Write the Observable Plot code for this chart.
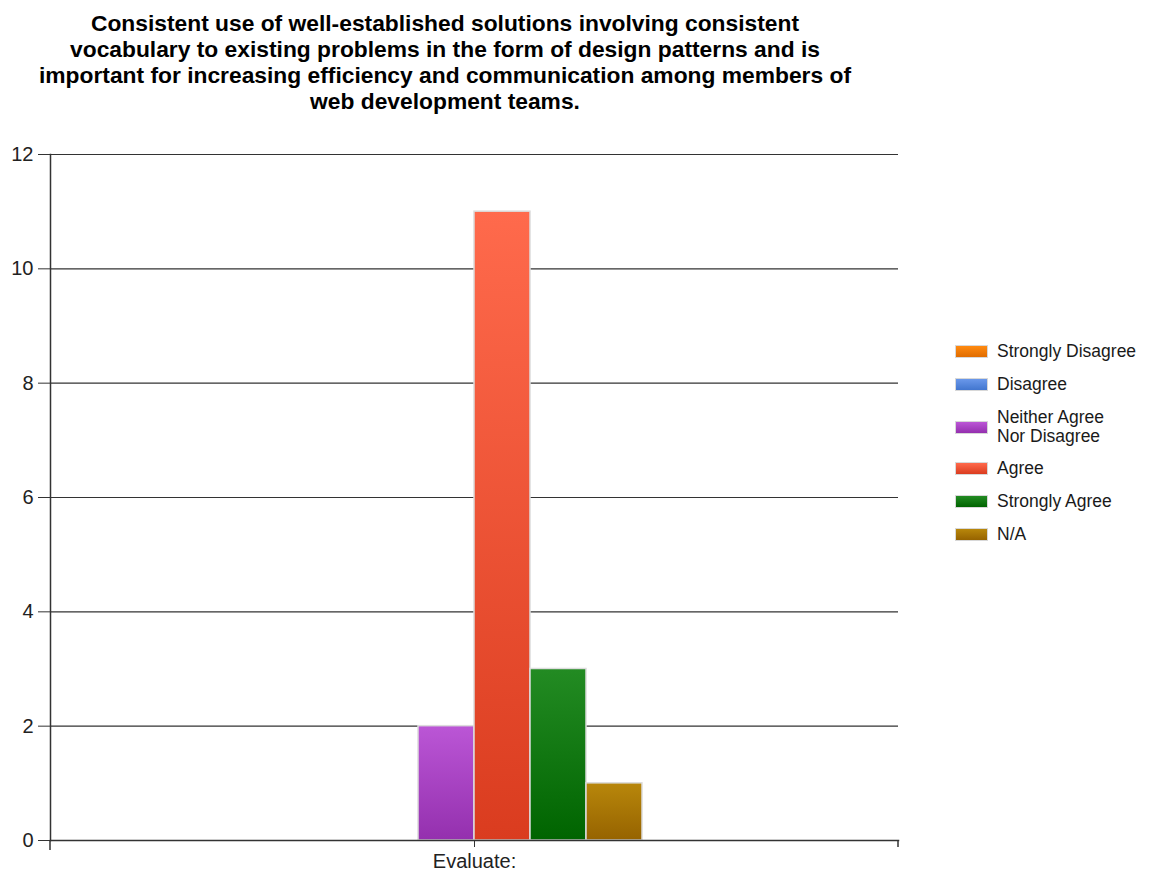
<!DOCTYPE html>
<html>
<head>
<meta charset="utf-8">
<script src="https://cdn.jsdelivr.net/npm/d3@7"></script>
<script src="https://cdn.jsdelivr.net/npm/@observablehq/plot@0.6"></script>
<style>
  html, body { margin: 0; padding: 0; background: #fff; }
  #wrap { position: relative; width: 1150px; height: 874px; font-family: "Liberation Sans", Arial, sans-serif; }
  #title { position: absolute; left: 0; top: 10px; width: 890px; text-align: center; font-weight: bold; font-size: 22.8px; line-height: 26px; color: #000; }
  #chart { position: absolute; left: 0; top: 130px; }
  #legend { position: absolute; left: 955px; top: 342px; font-size: 17.5px; color: #1a1a1a; }
  .item { position: absolute; left: 0; display: flex; align-items: center; white-space: nowrap; }
  .sw { width: 31px; height: 11px; border: 1px solid #d8d8d8; margin-right: 9px; flex: none; }
  .lbl { line-height: 19px; }
</style>
</head>
<body>
<div id="wrap">
  <div id="title">Consistent use of well-established solutions involving consistent<br>vocabulary to existing problems in the form of design patterns and is<br>important for increasing efficiency and communication among members of<br>web development teams.</div>
  <div id="chart"></div>
  <div id="legend"></div>
</div>
<script>
// Response categories, their counts, and colours (top / bottom of each bar's gradient)
const series = ["Strongly Disagree", "Disagree", "Neither Agree Nor Disagree", "Agree", "Strongly Agree", "N/A"];
const legendLabels = ["Strongly Disagree", "Disagree", "Neither Agree<br>Nor Disagree", "Agree", "Strongly Agree", "N/A"];
const counts = [0, 0, 2, 11, 3, 1];
const colorTop = ["#ff8a10", "#6a98ea", "#bb56d6", "#ff6a4c", "#238b23", "#b8870b"];
const colorBottom = ["#e06c00", "#4276cf", "#9430ae", "#da3c1f", "#006400", "#966300"];
const group = "Evaluate:";
const yTicks = [0, 2, 4, 6, 8, 10, 12];

const data = series.map((s, i) => ({series: s, value: counts[i], group, idx: i}));

const W = 1150, H = 744;

// Short ticks under the bottom axis at both edges of the plot frame
const endTicks = (index, scales, values, dim) => {
  const g = d3.create("svg:g");
  const y0 = dim.height - dim.marginBottom;
  [[dim.marginLeft, 10], [dim.width - dim.marginRight, 7]].forEach(([x, len]) => {
    g.append("line").attr("x1", x).attr("x2", x).attr("y1", y0).attr("y2", y0 + len)
      .attr("stroke", "#333").attr("stroke-width", 1.5);
  });
  return g.node();
};

const chart = Plot.plot({
  width: W,
  height: H,
  marginLeft: 50,
  marginRight: 252,
  marginTop: 24,
  marginBottom: 34,
  style: {fontFamily: "'Liberation Sans', Arial, sans-serif", fontSize: "20px", color: "#222", background: "#fff"},
  fx: {domain: [group], padding: 0, label: null},
  x: {domain: series, paddingInner: 0, paddingOuter: 4.53, axis: null},
  y: {domain: [0, 12], label: null},
  marks: [
    Plot.gridY(yTicks, {stroke: "#333", strokeOpacity: 1, strokeWidth: 1.2}),
    Plot.axisY({ticks: yTicks, tickSize: 12, tickPadding: 5, fontSize: 20, label: null, stroke: "#333"}),
    Plot.axisFx({anchor: "bottom", tickSize: 7, tickPadding: 6, fontSize: 20, label: null, stroke: "#333"}),
    Plot.barY(data.filter(d => d.value > 0), {
      fx: "group", x: "series", y: "value",
      fill: d => `url(#grad-${d.idx})`,
      stroke: "#dcdcdc", strokeWidth: 1.5, inset: 0
    }),
    Plot.frame({anchor: "left", stroke: "#333", strokeWidth: 1.5}),
    Plot.frame({anchor: "bottom", stroke: "#333", strokeWidth: 1.5}),
    endTicks
  ]
});

// Vertical gradients used as bar fills
const defs = d3.select(chart).insert("defs", ":first-child");
series.forEach((s, i) => {
  const lg = defs.append("linearGradient").attr("id", `grad-${i}`)
    .attr("x1", 0).attr("y1", 0).attr("x2", 0).attr("y2", 1);
  lg.append("stop").attr("offset", "0%").attr("stop-color", colorTop[i]);
  lg.append("stop").attr("offset", "100%").attr("stop-color", colorBottom[i]);
});

document.getElementById("chart").appendChild(chart);

// Legend to the right of the plot
const legend = d3.select("#legend");
const rowTops = [0, 33, 66, 117, 150, 183];
series.forEach((s, i) => {
  const row = legend.append("div").attr("class", "item").style("top", rowTops[i] + "px");
  row.append("div").attr("class", "sw")
    .style("background", `linear-gradient(${colorTop[i]}, ${colorBottom[i]})`);
  row.append("div").attr("class", "lbl").html(legendLabels[i]);
});
</script>
</body>
</html>
